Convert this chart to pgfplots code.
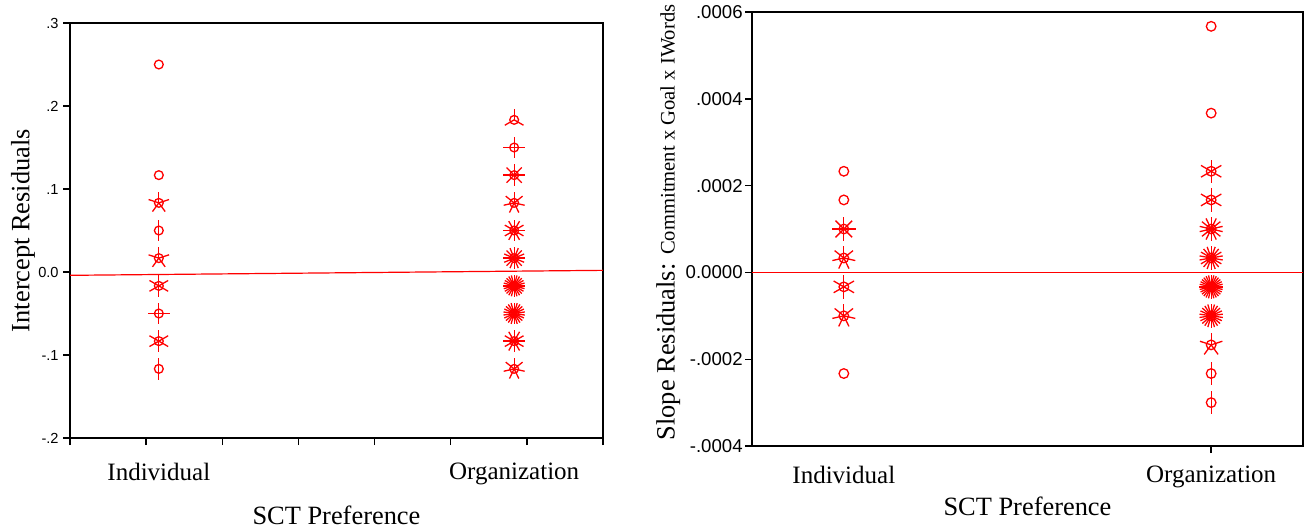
\documentclass[border=0pt]{standalone}
\usepackage{fontspec}
\setmainfont{Liberation Serif}
\newfontfamily\arial{Liberation Sans}
\usepackage{pgfplots}
\usepackage{pgfplotstable}
\pgfplotsset{compat=1.18}

% Sunflower mark: a circle with one petal per case (\np cases), first petal pointing up
\pgfdeclareplotmark{sunflower}{%
  \pgfsetstrokecolor{red}%
  \pgfpathcircle{\pgfpointorigin}{\pgfplotmarksize}%
  \pgfusepathqstroke
  \ifnum\np>1
    \pgfmathsetmacro\sfstep{360/\np}%
    \foreach \k in {1,...,\np}{%
      \pgfmathsetmacro\sfang{90+(\k-1)*\sfstep}%
      \pgfsetstrokecolor{red}%
      \pgfpathmoveto{\pgfpointorigin}%
      \pgfpathlineto{\pgfpointpolar{\sfang}{2.45\pgfplotmarksize}}%
      \pgfusepathqstroke
    }%
  \fi
}

% Intercept residuals: x = group (1 Individual, 5 Organization), y = residual bin, n = cases
\pgfplotstableread{
x y n
1 0.25 1
1 0.1167 1
1 0.0833 5
1 0.05 2
1 0.0167 5
1 -0.0167 6
1 -0.05 4
1 -0.0833 6
1 -0.1167 2
5 0.1833 3
5 0.15 4
5 0.1167 8
5 0.0833 7
5 0.05 12
5 0.0167 16
5 -0.0167 24
5 -0.05 22
5 -0.0833 12
5 -0.1167 7
}\intercepttab

% Slope residuals
\pgfplotstableread{
x y n
1 0.000233 1
1 0.000167 1
1 0.0001 8
1 0.0000333 7
1 -0.0000333 6
1 -0.0001 7
1 -0.000233 1
5 0.000567 1
5 0.000367 1
5 0.000233 6
5 0.000167 6
5 0.0001 14
5 0.0000333 18
5 -0.0000333 28
5 -0.0001 22
5 -0.000167 5
5 -0.000233 2
5 -0.0003 2
}\slopetab

\pgfplotsset{
  sctaxis/.style={
    scale only axis,
    anchor=south west,
    xmin=0, xmax=6,
    enlargelimits=false,
    axis line style={line width=0.8pt},
    every tick/.style={black, line width=0.7pt},
    tick align=outside,
    xtick pos=bottom, ytick pos=left,
    major tick length=3.5pt,
    xticklabels={},
    extra x ticks={1,5},
    extra x tick labels={Individual,Organization},
    extra x tick style={major tick length=0pt,
      tick label style={font=\fontsize{12.5}{14}\selectfont}},
    label style={font=\fontsize{13.2}{15}\selectfont},
  },
  sunflowers/.style={
    red, scatter, only marks, mark=sunflower,
    mark options={line width=0.65pt, red},
    point meta=explicit symbolic,
    scatter/@pre marker code/.code={\edef\np{\pgfplotspointmeta}},
    scatter/@post marker code/.code={},
  },
}

\begin{document}
\begin{tikzpicture}
\useasboundingbox (0pt,0pt) rectangle (653.5pt,265.5pt);

\begin{axis}[sctaxis,
  at={(35pt,46.5pt)}, width=266.5pt, height=207.5pt,
  ymin=-0.2, ymax=0.3,
  xtick={0,0.857143,1.714286,2.571429,3.428571,4.285714,5.142857,6},
  ytick={-0.2,-0.1,0,0.1,0.2,0.3},
  yticklabels={-.2,-.1,0.0,.1,.2,.3},
  yticklabel style={font=\arial\fontsize{7.3}{8}\selectfont, inner sep=2pt},
  extra x tick style={tick label style={yshift=-9pt}},
  xlabel={SCT Preference},
  xlabel style={at={(axis description cs:0.5,-0.186)}, anchor=center},
  ylabel={Intercept Residuals},
  ylabel style={at={(axis description cs:-0.088,0.5)}, anchor=center},
]
\addplot[red, line width=0.6pt] coordinates {(0,-0.004) (6,0.002)};
\addplot[sunflowers, mark size=2.2pt]
  table[x=x, y=y, meta=n] {\intercepttab};
\end{axis}

\begin{axis}[sctaxis,
  at={(376pt,42.5pt)}, width=275.5pt, height=217pt,
  ymin=-0.0004, ymax=0.0006,
  scaled y ticks=false,
  xtick={5},
  ytick={-0.0004,-0.0002,0,0.0002,0.0004,0.0006},
  yticklabels={-.0004,-.0002,0.0000,.0002,.0004,.0006},
  yticklabel style={font=\arial\fontsize{9.3}{10}\selectfont, inner sep=1pt},
  extra x tick style={tick label style={yshift=-6.5pt}},
  xlabel={SCT Preference},
  xlabel style={at={(axis description cs:0.5,-0.14)}, anchor=center},
  ylabel={Slope Residuals: {\fontsize{10.3}{12}\selectfont Commitment x Goal x IWords}},
  ylabel style={at={(axis description cs:-0.152,0.515)}, anchor=center},
]
\addplot[red, line width=0.6pt] coordinates {(0,0) (6,0)};
\addplot[sunflowers, mark size=2.4pt]
  table[x=x, y=y, meta=n] {\slopetab};
\end{axis}
\end{tikzpicture}
\end{document}
